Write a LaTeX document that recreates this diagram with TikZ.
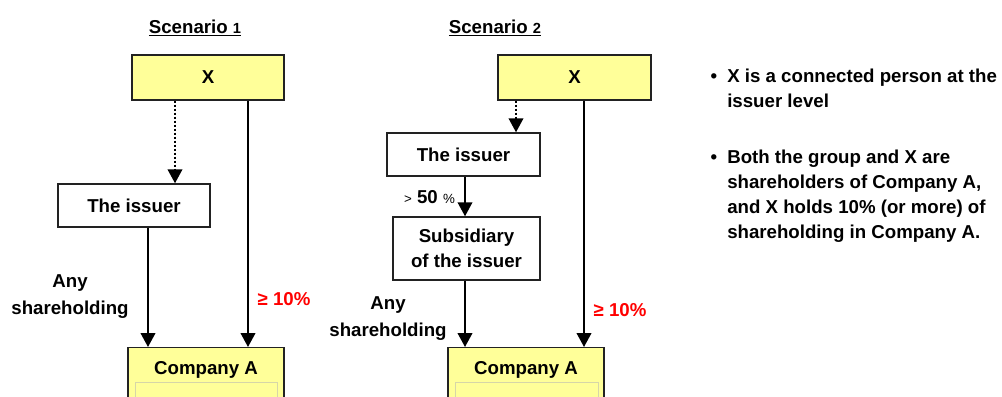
\documentclass[tikz,border=0pt]{standalone}
\usepackage{fontspec}
\setmainfont{Liberation Sans}
\usetikzlibrary{arrows.meta}
\definecolor{ylw}{HTML}{FFFF99}
\definecolor{bord}{HTML}{222222}
\definecolor{innerc}{HTML}{D6D6A8}
\definecolor{pctred}{HTML}{FF0000}
\begin{document}
\begin{tikzpicture}[x=0.75pt,y=-0.75pt,
  font=\fontsize{14}{18.75}\selectfont\bfseries,
  box/.style={draw=bord, line width=1.1pt, fill=white, inner sep=0pt, align=center},
  ybox/.style={box, fill=ylw},
  innerbox/.style={draw=innerc, line width=0.6pt, inner sep=0pt, anchor=north west},
  arr/.style={line width=1.4pt, -{Triangle[width=11pt,length=10.5pt]}},
  dotarr/.style={arr, dash pattern=on 1.5pt off 1.5pt},
  lbl/.style={inner sep=0pt, align=center},
  pct/.style={lbl, text=pctred},
  twoline/.style={lbl, font=\fontsize{14}{20.25}\selectfont\bfseries}]
\useasboundingbox (0,0) rectangle (1002,396);
\clip (0,0) rectangle (1002,396);

% ---------- Scenario 1 ----------
\node[lbl] (t1) at (195,28) {\underline{Scenario {\fontsize{11}{13}\selectfont 1}}};
\node[ybox, minimum width=114pt, minimum height=33.75pt] (X1) at (208,77.5) {X};
\node[box, minimum width=114pt, minimum height=32.25pt] (I1) at (134,205.5) {The issuer};
\node[ybox, anchor=north, minimum width=117pt, minimum height=75pt] (A1) at (206,347) {};
\node[innerbox, minimum width=106.5pt, minimum height=30pt] (A1i) at (135,382) {};
\node[lbl] (A1t) at (206,370) {Company A};

\coordinate (d1) at (175,0);
\coordinate (l1) at (148,0);
\coordinate (r1) at (248,0);
\draw[dotarr] (X1.south -| d1) -- (I1.north -| d1);
\draw[arr] (I1.south -| l1) -- (A1.north -| l1);
\draw[arr] (X1.south -| r1) -- (A1.north -| r1);

\node[twoline] (any1) at (70,296.5) {Any\\shareholding};
\node[pct] (p1) at (284,299) {≥ 10\%};

% ---------- Scenario 2 ----------
\node[lbl] (t2) at (495,28) {\underline{Scenario {\fontsize{11}{13}\selectfont 2}}};
\node[ybox, minimum width=114.75pt, minimum height=33.75pt] (X2) at (574.5,77.5) {X};
\node[box, minimum width=114.75pt, minimum height=32.25pt] (I2) at (463.5,154.5) {The issuer};
\node[box, minimum width=110.25pt, minimum height=47.25pt] (S2) at (466.5,248.5) {Subsidiary\\of the issuer};
\node[ybox, anchor=north, minimum width=117pt, minimum height=75pt] (A2) at (526,347) {};
\node[innerbox, minimum width=107.25pt, minimum height=30pt] (A2i) at (455,382) {};
\node[lbl] (A2t) at (526,370) {Company A};

\coordinate (d2) at (516,0);
\coordinate (l2) at (465,0);
\coordinate (r2) at (584,0);
\draw[dotarr] (X2.south -| d2) -- (I2.north -| d2);
\draw[arr] (I2.south -| l2) -- (S2.north -| l2);
\draw[arr] (S2.south -| l2) -- (A2.north -| l2);
\draw[arr] (X2.south -| r2) -- (A2.north -| r2);

\node[lbl] (p50) at (429.5,197) {{\fontsize{10}{12}\selectfont\mdseries >} 50 {\fontsize{10}{12}\selectfont\mdseries \%}};
\node[twoline] (any2) at (388,318.5) {Any\\shareholding};
\node[pct] (p2) at (620,310) {≥ 10\%};

% ---------- Bullets ----------
\node[lbl, anchor=base] (bu1) at (714,82) {•};
\node[lbl, anchor=base west, align=left] (b1) at (727,107) {X is a connected person at the\\issuer level};
\node[lbl, anchor=base] (bu2) at (714,163) {•};
\node[lbl, anchor=base west, align=left] (b2) at (727,238) {Both the group and X are\\shareholders of Company A,\\and X holds 10\% (or more) of\\shareholding in Company A.};
\end{tikzpicture}
\end{document}
